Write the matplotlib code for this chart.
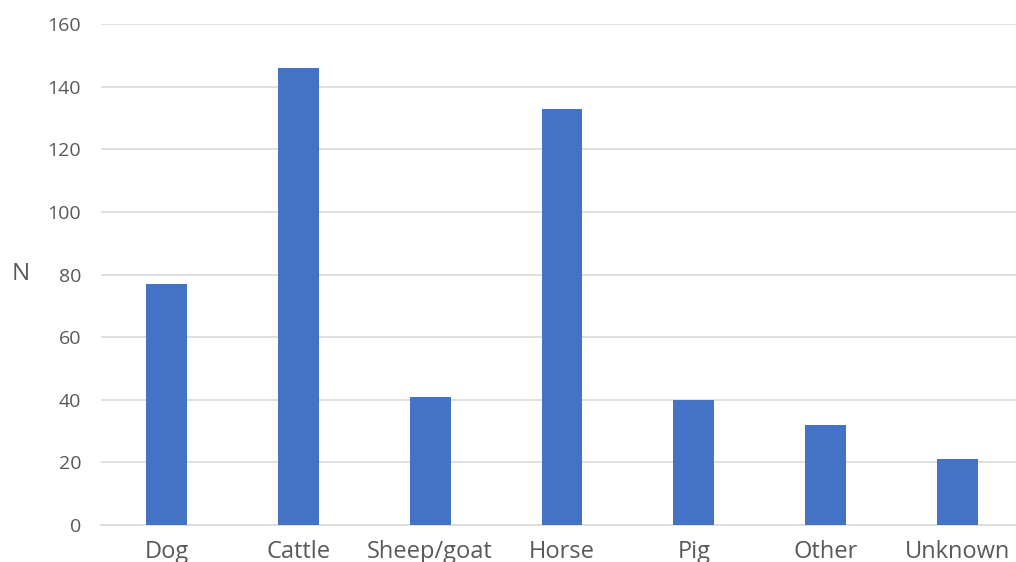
import matplotlib
matplotlib.use("Agg")
import matplotlib.pyplot as plt

categories = ["Dog", "Cattle", "Sheep/goat", "Horse", "Pig", "Other", "Unknown"]
values = [77, 146, 41, 133, 40, 32, 21]
yticks = [0, 20, 40, 60, 80, 100, 120, 140, 160]

plt.rcParams['font.family'] = ['Open Sans', 'DejaVu Sans']
W, H = 1016, 562
fig = plt.figure(figsize=(W / 100, H / 100), dpi=100)
left, right = 100.6, 1023.4
top, bottom = 24, 525
ax = fig.add_axes([left / W, (H - bottom) / H, (right - left) / W, (bottom - top) / H])

x = list(range(len(categories)))
ax.bar(x, values, width=0.31, color="#4472C4", zorder=3)
ax.set_xlim(-0.5, len(categories) - 0.5)
ax.set_ylim(0, 160)
ax.set_yticks(yticks)
ax.set_yticklabels([str(t) for t in yticks])
ax.set_xticks(x)
ax.set_xticklabels(categories)
ax.yaxis.grid(True, color="#d9d9d9", linewidth=1.2, zorder=0)
ax.set_axisbelow(True)
for s in ["top", "right", "left"]:
    ax.spines[s].set_visible(False)
ax.spines["bottom"].set_color("#d9d9d9")
ax.spines["bottom"].set_linewidth(1.2)
ax.tick_params(axis="y", length=0, pad=14, labelsize=14, labelcolor="#595959")
ax.tick_params(axis="x", length=0, pad=10.5, labelsize=17, labelcolor="#595959")
ax.set_ylabel("N", rotation=0, fontsize=17.5, color="#595959", va="center", ha="center")
ax.yaxis.set_label_coords(-0.087, 0.5)

fig.savefig("out.png", dpi=100)
